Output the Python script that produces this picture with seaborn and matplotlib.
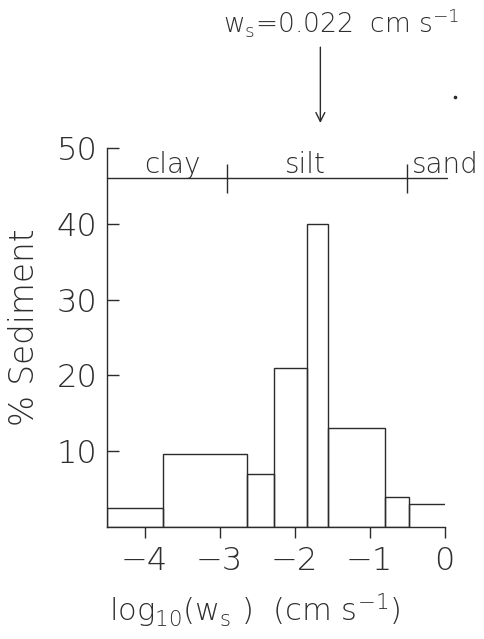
import numpy as np
import matplotlib
matplotlib.use("Agg")
import matplotlib.pyplot as plt
import seaborn as sns

# Settling-velocity distribution of the sediment (log10 of w_s in cm/s)
bin_edges = [-4.5, -3.75, -2.63, -2.27, -1.84, -1.56, -0.79, -0.48, 0.0]
pct_sediment = [2.5, 9.6, 7.0, 21.0, 40.0, 13.1, 4.0, 3.0]

# Grain-size classes along the top of the panel
class_names = ["clay", "silt", "sand"]
class_label_x = [-3.63, -1.86, 0.0]
class_bounds = [-2.9, -0.5]
class_level = 46.0

ws_mean = 0.022  # cm s^-1

x_ticks = [-4, -3, -2, -1, 0]
y_ticks = [10, 20, 30, 40, 50]

sns.set_theme(style="white")
plt.rcParams["font.family"] = ["DejaVu Sans"]
plt.rcParams["font.weight"] = "light"
plt.rcParams["axes.labelweight"] = "light"
plt.rcParams["mathtext.default"] = "regular"

ink = "#2b2b2b"
txt = "#2e2e2e"
lw = 1.0

fig = plt.figure(figsize=(4.84, 6.39), dpi=100)
ax = fig.add_axes([0.221, 0.1753, 0.698, 0.5931])

centers = 0.5 * (np.array(bin_edges[:-1]) + np.array(bin_edges[1:]))
sns.histplot(x=centers, weights=pct_sediment, bins=bin_edges, fill=False,
             color=ink, linewidth=lw, ax=ax)

# the last (open) bin is drawn without its right-hand side
last = ax.patches[-1]
last.set_visible(False)
ax.plot([bin_edges[-2], bin_edges[-2], bin_edges[-1]],
        [0, pct_sediment[-1], pct_sediment[-1]], color=ink, lw=lw,
        solid_capstyle="butt")

ax.set_xlim(bin_edges[0], bin_edges[-1])
ax.set_ylim(0, 50)
ax.set_xticks(x_ticks)
ax.set_yticks(y_ticks)
ax.set_xticklabels([f"{t:d}".replace("-", "\u2212") for t in x_ticks])
sns.despine(ax=ax)
for s in ("left", "bottom"):
    ax.spines[s].set_color(ink)
    ax.spines[s].set_linewidth(lw)

ax.tick_params(axis="x", direction="out", length=8, width=lw, color=ink,
               pad=6, labelsize=23, labelcolor=txt, bottom=True)
ax.tick_params(axis="y", direction="in", length=8.5, width=lw, color=ink,
               pad=7, labelsize=23, labelcolor=txt, left=True)

ax.set_ylabel("% Sediment", fontsize=23.5, color=txt, fontweight="light")
ax.yaxis.set_label_coords(-0.195, 0.528)
ax.set_xlabel("log$_{10}$(w$_s$ )  (cm s$^{-1}$)", fontsize=22, color=txt,
              fontweight="light")
ax.xaxis.set_label_coords(0.438, -0.17)

# grain-size class bar
ax.plot([bin_edges[0], bin_edges[-1] + 0.03], [class_level, class_level],
        color=ink, lw=lw, clip_on=False)
ax.vlines(class_bounds, class_level - 1.9, class_level + 1.9, color=ink,
          lw=lw, clip_on=False)
for name, xc in zip(class_names, class_label_x):
    ax.text(xc, class_level + 0.7, name, ha="center", va="baseline",
            fontsize=20, color=txt, clip_on=False, fontweight="light")

# mean settling velocity marker
x_ws = np.log10(ws_mean)
ax.annotate("", xy=(x_ws, 53.3), xytext=(x_ws, 63.3),
            xycoords="data", textcoords="data", annotation_clip=False,
            arrowprops=dict(arrowstyle="->", color=ink, lw=lw,
                            shrinkA=0, shrinkB=0, mutation_scale=16))
ax.text(x_ws + 0.27, 65.2, f"w$_s$={ws_mean}  cm s$^{{-1}}$", ha="center",
        va="baseline", fontsize=19, color=txt, clip_on=False,
        fontweight="light")
ax.plot([0.14], [56.7], marker="o", markersize=1.6, color=ink,
        clip_on=False)

fig.savefig("out.png", dpi=100)
